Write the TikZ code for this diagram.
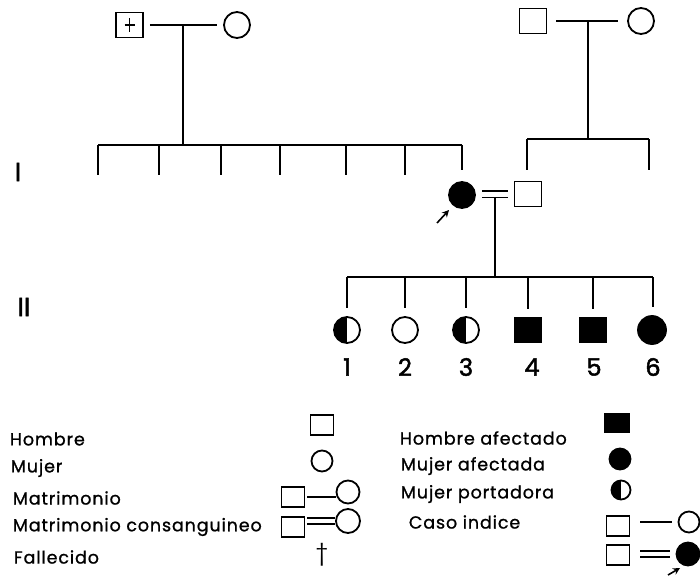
\documentclass[tikz,border=0pt]{standalone}
\usepackage{fontspec}
\setmainfont{Poppins}
\newfontfamily\lblfont{Poppins}[LetterSpace=5,FakeBold=1]
\newfontfamily\numfont{Poppins}[FakeBold=2]
\usetikzlibrary{arrows.meta}
\begin{document}
\begin{tikzpicture}[x=1pt,y=-1pt,line width=1.8pt,
  male/.style={draw,rectangle,minimum width=27pt,minimum height=25pt,inner sep=0pt},
  female/.style={draw,circle,minimum size=26pt,inner sep=0pt},
  lmale/.style={draw,rectangle,minimum width=23pt,minimum height=20pt,inner sep=0pt},
  lfemale/.style={draw,circle,minimum size=21pt,inner sep=0pt},
  affected/.style={fill=black},
  carrier/.style={path picture={\fill (path picture bounding box.north) rectangle (path picture bounding box.south west);}},
  gap/.style={shorten <=6pt,shorten >=6pt},
  cons/.style={double,double distance=5pt,line width=1.6pt},
  lbl/.style={font=\lblfont\fontsize{17.5}{19}\selectfont,anchor=west,inner sep=0pt},
  num/.style={font=\numfont\fontsize{24}{26}\selectfont,inner sep=0pt},
  gen/.style={font=\numfont\fontsize{26}{28}\selectfont,inner sep=0pt},
  probarrow/.style={-{Stealth[length=7pt,width=7pt]},line width=1.6pt}
]
\useasboundingbox (0,0) rectangle (700,580);

% ---- top left couple
\node[male] (gf1) at (129.5,25) {};
\draw[line width=1.8pt] ([yshift=7pt]gf1.center) -- ([yshift=-7pt]gf1.center);
\draw[line width=1.6pt] ([xshift=-5pt]gf1.center) -- ([xshift=5pt]gf1.center);
\node[female] (gm1) at (237,25) {};
\draw[gap] (gf1) -- (gm1);
\coordinate (m1) at (183,25);
\coordinate (m1b) at (183,145);
\draw (m1) -- (m1b);
\coordinate (s1L) at (98,145);
\coordinate (s1R) at (462,145);
\draw (s1L) -- (s1R);
\foreach \x [count=\i] in {98,159,221,280,346,405}{
  \coordinate (t\i) at (\x,145);
  \coordinate (b\i) at (\x,175);
  \draw (t\i) -- (b\i);
}

% ---- top right couple
\node[male] (gf2) at (533,21) {};
\node[female] (gm2) at (641,21) {};
\draw[shorten <=9pt,shorten >=9pt] (gf2) -- (gm2);
\coordinate (m2) at (588,21);
\coordinate (m2b) at (588,139);
\draw (m2) -- (m2b);
\coordinate (s2L) at (527,139);
\coordinate (s2R) at (649,139);
\draw (s2L) -- (s2R);
\coordinate (s2Rb) at (649,170);
\draw (s2R) -- (s2Rb);

% ---- proband couple
\node[female,affected] (pb) at (462,195) {};
\node[male] (sp) at (528,194) {};
\draw[cons,shorten <=6pt,shorten >=6pt] (pb.east |- sp.west) -- (sp.west);
\draw[shorten >=11pt] (s1R) -- (pb);
\draw[shorten >=11pt] (s2L) -- (sp.north -| s2L);
\coordinate (ap) at (437,223);
\draw[probarrow] (ap) -- ++(12,-13);

% ---- generation II
\coordinate (m3) at (495,198);
\coordinate (m3b) at (495,277);
\draw (m3) -- (m3b);
\coordinate (s3L) at (347,277);
\coordinate (s3R) at (653,277);
\draw (s3L) -- (s3R);

\node[female,carrier] (c1) at (347,330) {};
\node[female] (c2) at (405,330) {};
\node[female,carrier] (c3) at (466,330) {};
\node[male,affected] (c4) at (528,330) {};
\node[male,affected] (c5) at (593,330) {};
\node[female,affected,minimum size=28pt] (c6) at (652,330) {};
\foreach \c/\x in {c1/347,c2/405,c3/466,c4/528,c5/593,c6/653}{
  \coordinate (d\c) at (\x,277);
  \draw[shorten >=8pt] (d\c) -- (d\c |- \c.north);
}
\node[num] (n1) at (347,367) {1};
\node[num] (n2) at (405,367) {2};
\node[num] (n3) at (466,367) {3};
\node[num] (n4) at (532,367) {4};
\node[num] (n5) at (594,367) {5};
\node[num] (n6) at (653,367) {6};

\node[gen] (g1) at (18,172) {I};
\node[gen] (g2) at (24,307) {II};

% ---- legend left
\node[lbl] (l1) at (9,439) {Hombre};
\node[lbl] (l2) at (10,468) {Mujer};
\node[lbl] (l3) at (12,498) {Matrimonio};
\node[lbl] (l4) at (12,527) {Matrimonio consanguineo};
\node[lbl] (l5) at (13,557) {Fallecido};
\node[lmale] (k1) at (322,425) {};
\node[lfemale] (k2) at (322,461) {};
\node[lmale] (k3a) at (293,497) {};
\node[lfemale,minimum size=23pt] (k3b) at (348,492) {};
\draw[shorten <=2pt] (k3a.east) -- (k3b.west |- k3a.east);
\node[lmale] (k4a) at (293,527) {};
\node[lfemale,minimum size=24pt] (k4b) at (348,521) {};
\draw[cons,double distance=4.5pt,shorten <=2pt] (k4a.east |- k4b.west) -- (k4b.west);
\node[font=\fontsize{22}{24}\selectfont,inner sep=0pt] (k5) at (322,555) {†};

% ---- legend right
\node[lbl] (r1) at (399,438) {Hombre afectado};
\node[lbl] (r2) at (400,466) {Mujer afectada};
\node[lbl] (r3) at (400,494) {Mujer portadora};
\node[lbl] (r4) at (408,522) {Caso indice};
\node[lmale,affected,minimum width=25pt,minimum height=19pt] (q1) at (617,423) {};
\node[lfemale,affected] (q2) at (620,459) {};
\node[lfemale,carrier,minimum size=19pt] (q3) at (621,490) {};
\node[lmale] (q4a) at (618,526) {};
\node[lfemale] (q4b) at (689,522) {};
\draw[shorten <=10pt,shorten >=6pt] (q4a.east |- q4b.west) -- (q4b.west);
\node[lmale] (q5a) at (618,555) {};
\node[lfemale,affected,minimum size=23pt] (q5b) at (688,554) {};
\draw[cons,double distance=4.5pt,shorten <=10pt,shorten >=6pt] (q5a.east |- q5b.west) -- (q5b.west);
\coordinate (aq) at (668,575);
\draw[probarrow] (aq) -- ++(12,-7);
\end{tikzpicture}
\end{document}
